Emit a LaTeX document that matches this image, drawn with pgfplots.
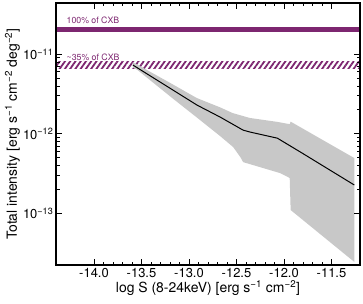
\documentclass[border=0pt]{standalone}
\usepackage{pgfplots}
\pgfplotsset{compat=1.18}
\usepackage{fontspec}
\setmainfont{TeX Gyre Heros}
\usetikzlibrary{patterns.meta}
\definecolor{cxb}{RGB}{125,38,112}
\definecolor{band}{RGB}{200,200,200}
\begin{document}
\begin{tikzpicture}
\path[use as bounding box] (-56bp,-39bp) rectangle (307bp,265bp);
\begin{axis}[
  scale only axis, width=304bp, height=262bp,
  xmin=-14.4, xmax=-11.2,
  ymode=log, ymin=2.24e-14, ymax=4.4e-11,
  xtick={-14,-13.5,-13,-12.5,-12,-11.5},
  minor x tick num=4,
  ytick={1e-13,1e-12,1e-11},
  yticklabels={10\textsuperscript{−13},10\textsuperscript{−12},10\textsuperscript{−11}},
  x tick label style={/pgf/number format/.cd, fixed, fixed zerofill, precision=1, assume math mode=true},
  tick label style={font=\fontsize{13}{15}\selectfont, text=black, inner xsep=0.5pt},
  yticklabel style={xshift=-2bp},
  label style={font=\fontsize{14}{16}\selectfont},
  xlabel={log S (8-24keV) [erg s\textsuperscript{−1} cm\textsuperscript{−2}]},
  ylabel={Total intensity [erg s\textsuperscript{−1} cm\textsuperscript{−2} deg\textsuperscript{−2}]},
  xlabel style={yshift=4bp},
  ylabel style={yshift=-1bp},
  axis line style={line width=1.1pt},
  tick style={line width=0.7pt, black},
  major tick length=6bp, minor tick length=3.5bp,
  axis on top,
]
% hatched ~35% band
\addplot[draw=none, pattern={Lines[angle=55, distance=4.3bp, line width=1.8bp]}, pattern color=cxb]
  coordinates {(-14.4,6.6e-12) (-11.2,6.6e-12) (-11.2,8.0e-12) (-14.4,8.0e-12)} -- cycle;
% solid 100% band
\addplot[draw=none, fill=cxb]
  coordinates {(-14.4,1.9e-11) (-11.2,1.9e-11) (-11.2,2.18e-11) (-14.4,2.18e-11)} -- cycle;
% uncertainty band
\addplot[fill=band, draw=none] coordinates {
  (-13.59,7.94e-12) (-13.17,4.17e-12) (-12.92,2.82e-12) (-12.67,2.14e-12)
  (-12.54,1.82e-12) (-12.36,1.58e-12) (-12.07,1.41e-12) (-11.94,1.32e-12)
  (-11.93,1.42e-12) (-11.26,4.95e-13)
  (-11.26,2.45e-14) (-11.93,1.1e-13) (-11.94,2.78e-13) (-12.04,3.2e-13)
  (-12.43,4.4e-13) (-12.46,5.1e-13) (-12.535,6.8e-13) (-12.67,9.3e-13)
  (-12.92,1.61e-12) (-13.17,2.77e-12) (-13.54,6.3e-12) (-13.59,6.8e-12)
} -- cycle;
% median line
\addplot[black, line width=1pt] coordinates {
  (-13.59,7.3e-12) (-13.167,3.53e-12) (-12.915,2.29e-12) (-12.672,1.62e-12)
  (-12.43,1.11e-12) (-12.356,1.05e-12) (-12.07,8.8e-13) (-11.828,5.9e-13)
  (-11.26,2.27e-13)
};
\node[anchor=west, text=cxb, font=\fontsize{8.8}{10}\selectfont, inner sep=0pt] at (axis cs:-14.29,2.67e-11) {100\% of CXB};
\node[anchor=west, text=cxb, font=\fontsize{8.8}{10}\selectfont, inner sep=0pt] at (axis cs:-14.29,9.16e-12) {\textasciitilde35\% of CXB};
\end{axis}
\end{tikzpicture}
\end{document}
